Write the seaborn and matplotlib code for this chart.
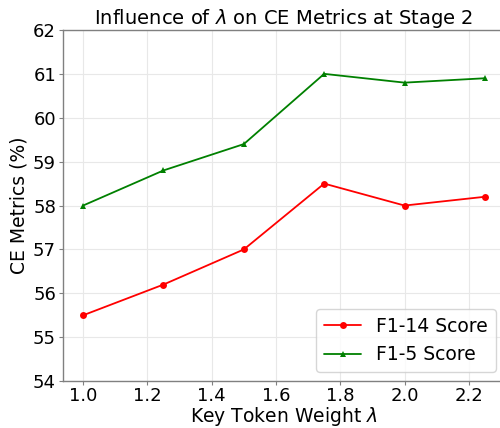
import numpy as np
import pandas as pd
import seaborn as sns
import matplotlib
matplotlib.use('Agg')
import matplotlib.pyplot as plt

# values
lam = [1.0, 1.25, 1.5, 1.75, 2.0, 2.25]
f1_14 = [55.5, 56.2, 57.0, 58.5, 58.0, 58.2]
f1_5 = [58.0, 58.8, 59.4, 61.0, 60.8, 60.9]

df = pd.DataFrame({'lam': lam, 'F1-14 Score': f1_14, 'F1-5 Score': f1_5})

sns.set_style('whitegrid', {'grid.color': '#e8e8e8', 'axes.edgecolor': '#808080',
                            'text.color': 'black', 'axes.labelcolor': 'black',
                            'xtick.color': 'black', 'ytick.color': 'black',
                            'xtick.bottom': True, 'ytick.left': True})
plt.rcParams['font.family'] = ['DejaVu Sans']
plt.rcParams['xtick.major.size'] = 3
plt.rcParams['ytick.major.size'] = 3
plt.rcParams['xtick.major.pad'] = 1.5
plt.rcParams['ytick.major.pad'] = 2

fig, ax = plt.subplots(figsize=(5, 4.28), dpi=100)
sns.lineplot(data=df, x='lam', y='F1-14 Score', color='red', marker='o', markersize=5,
             markeredgewidth=0, linewidth=1.3, label='F1-14 Score', ax=ax)
sns.lineplot(data=df, x='lam', y='F1-5 Score', color='green', marker='^', markersize=5,
             markeredgewidth=0, linewidth=1.3, label='F1-5 Score', ax=ax)

ax.set_ylim(54, 62)
ax.set_xlim(0.9375, 2.3125)
ax.set_xticks([1.0, 1.2, 1.4, 1.6, 1.8, 2.0, 2.2])
ax.set_yticks(range(54, 63))
ax.tick_params(labelsize=13, colors='black')
ax.tick_params(axis='both', color='#808080')
ax.set_title(r'Influence of $\lambda$ on CE Metrics at Stage 2', fontsize=14, pad=4)
ax.set_xlabel(r'Key Token Weight $\lambda$', fontsize=13.5, labelpad=0)
ax.set_ylabel('CE Metrics (%)', fontsize=13.5, labelpad=3)
ax.legend(loc='lower right', fontsize=13.5)
for s in ax.spines.values():
    s.set_linewidth(1)

plt.subplots_adjust(left=0.126, right=1.01, top=0.93, bottom=0.1095)
plt.savefig('out.png')
